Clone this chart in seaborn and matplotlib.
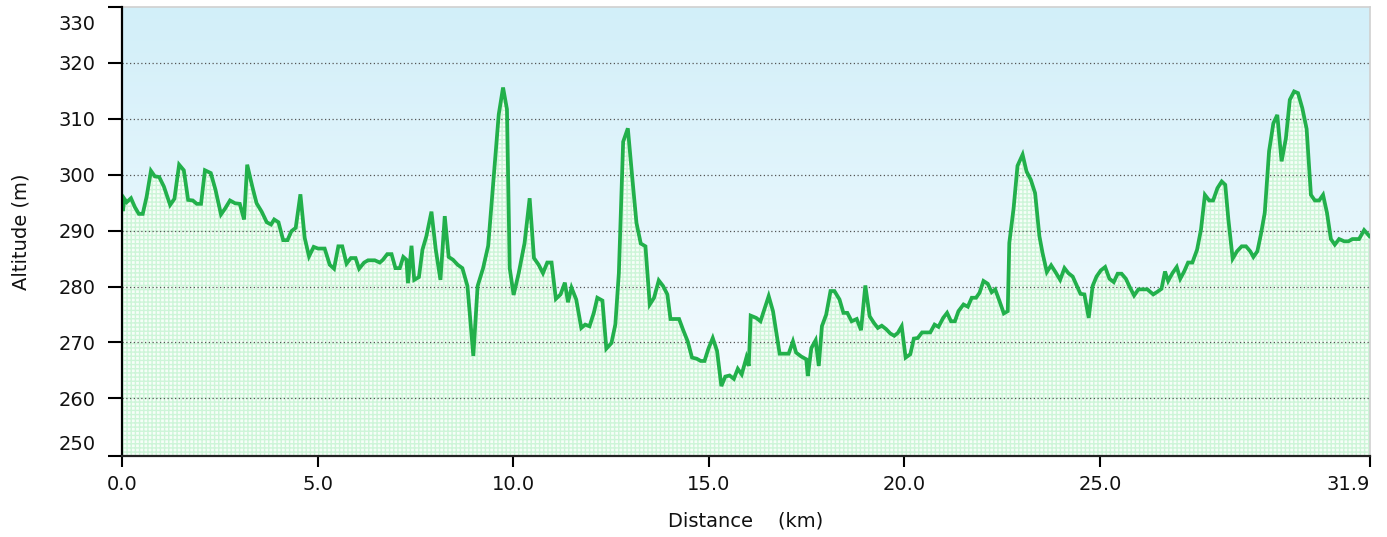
import numpy as np
import pandas as pd
import matplotlib
matplotlib.use('Agg')
import matplotlib.pyplot as plt
import matplotlib.transforms as mtransforms
from matplotlib.colors import LinearSegmentedColormap
import seaborn as sns

# Elevation profile (km, m)
distance_km = [
    0.00, 0.03, 0.06, 0.12, 0.23, 0.33, 0.43, 0.53, 0.63, 0.74, 0.84, 0.95, 1.07, 1.23, 1.34,
    1.46, 1.58, 1.69, 1.81, 1.91, 2.02, 2.12, 2.27, 2.39, 2.53, 2.63, 2.76, 2.89, 3.01, 3.12,
    3.20, 3.33, 3.44, 3.57, 3.70, 3.81, 3.89, 4.00, 4.12, 4.23, 4.33, 4.44, 4.56, 4.67, 4.78,
    4.90, 5.01, 5.18, 5.31, 5.42, 5.53, 5.63, 5.74, 5.85, 5.97, 6.06, 6.19, 6.29, 6.46, 6.59,
    6.67, 6.78, 6.89, 6.99, 7.10, 7.19, 7.27, 7.31, 7.40, 7.47, 7.59, 7.68, 7.78, 7.91, 8.02,
    8.14, 8.25, 8.35, 8.46, 8.58, 8.70, 8.83, 8.98, 9.09, 9.23, 9.36, 9.51, 9.63, 9.74, 9.84,
    9.91, 10.01, 10.14, 10.29, 10.42, 10.53, 10.65, 10.76, 10.87, 10.98, 11.09, 11.21, 11.32,
    11.40, 11.49, 11.61, 11.74, 11.84, 11.95, 12.06, 12.15, 12.28, 12.38, 12.51, 12.61, 12.70,
    12.81, 12.93, 13.04, 13.15, 13.26, 13.38, 13.49, 13.60, 13.72, 13.83, 13.94, 14.02, 14.13,
    14.24, 14.34, 14.46, 14.57, 14.69, 14.79, 14.89, 14.99, 15.10, 15.21, 15.32, 15.42, 15.53,
    15.64, 15.74, 15.84, 15.96, 16.02, 16.07, 16.21, 16.32, 16.53, 16.64, 16.81, 16.93, 17.04,
    17.15, 17.23, 17.36, 17.49, 17.53, 17.62, 17.73, 17.81, 17.89, 18.00, 18.11, 18.21, 18.34,
    18.44, 18.54, 18.65, 18.78, 18.89, 19.00, 19.11, 19.22, 19.32, 19.42, 19.53, 19.64, 19.74,
    19.83, 19.93, 20.03, 20.15, 20.24, 20.34, 20.45, 20.57, 20.66, 20.77, 20.87, 20.99, 21.09,
    21.19, 21.29, 21.38, 21.51, 21.62, 21.72, 21.83, 21.92, 22.02, 22.13, 22.23, 22.32, 22.43,
    22.54, 22.64, 22.68, 22.79, 22.89, 23.02, 23.12, 23.23, 23.34, 23.45, 23.53, 23.64, 23.75,
    23.86, 23.98, 24.09, 24.19, 24.30, 24.41, 24.50, 24.60, 24.71, 24.81, 24.91, 25.02, 25.13,
    25.24, 25.35, 25.45, 25.55, 25.66, 25.76, 25.87, 25.98, 26.09, 26.21, 26.36, 26.47, 26.57,
    26.66, 26.74, 26.85, 26.96, 27.05, 27.15, 27.25, 27.36, 27.48, 27.58, 27.68, 27.79, 27.89,
    28.00, 28.11, 28.20, 28.28, 28.39, 28.50, 28.62, 28.73, 28.84, 28.92, 29.02, 29.11, 29.21,
    29.32, 29.43, 29.53, 29.64, 29.75, 29.85, 29.96, 30.06, 30.17, 30.28, 30.39, 30.49, 30.60,
    30.70, 30.80, 30.90, 31.00, 31.11, 31.24, 31.35, 31.45, 31.62, 31.75, 31.90,
]
altitude_m = [
    293.8, 293.8, 295.7, 295.1, 295.8, 294.2, 293.0, 293.0, 296.1, 300.7, 299.7, 299.6, 297.9, 294.6, 295.7,
    301.8, 300.8, 295.5, 295.4, 294.8, 294.8, 300.8, 300.3, 297.3, 292.9, 293.9, 295.4, 294.9, 294.8, 292.0,
    301.8, 297.9, 294.9, 293.4, 291.5, 291.1, 292.0, 291.5, 288.3, 288.3, 289.9, 290.5, 296.5, 288.7, 285.4,
    287.1, 286.8, 286.8, 283.9, 283.2, 287.2, 287.2, 284.1, 285.1, 285.1, 283.2, 284.3, 284.7, 284.7, 284.3,
    284.8, 285.8, 285.8, 283.3, 283.3, 285.3, 284.8, 280.6, 287.3, 281.2, 281.7, 286.6, 289.0, 293.4, 286.6,
    281.2, 292.6, 285.3, 284.8, 283.9, 283.3, 280.1, 267.6, 280.1, 283.3, 287.3, 300.3, 310.8, 315.6, 311.7,
    283.3, 278.5, 282.4, 287.8, 295.8, 285.1, 283.9, 282.4, 284.3, 284.3, 277.8, 278.6, 280.7,
    277.2, 279.8, 277.7, 272.6, 273.2, 272.9, 275.3, 278.0, 277.5, 268.9, 269.9, 273.2, 282.4,
    305.9, 308.3, 299.7, 291.4, 287.7, 287.2, 276.8, 278.0, 281.1, 280.1, 278.6, 274.2, 274.2,
    274.2, 272.3, 270.2, 267.3, 267.1, 266.7, 266.7, 268.9, 270.8, 268.5, 262.2, 263.9, 264.1,
    263.5, 265.3, 264.3, 267.3, 265.8, 274.8, 274.4, 273.8, 278.3, 275.6, 268.0, 268.0, 268.0,
    270.2, 268.2, 267.5, 267.0, 264.0, 269.0, 270.4, 265.8, 272.9, 275.0, 279.2, 279.2, 277.7,
    275.3, 275.3, 273.8, 274.2, 272.2, 280.2, 274.7, 273.5, 272.6, 273.0, 272.4, 271.6, 271.2,
    271.7, 272.9, 267.3, 267.9, 270.7, 270.8, 271.8, 271.8, 271.8, 273.2, 272.8, 274.4, 275.3,
    273.8, 273.8, 275.6, 276.8, 276.4, 278.0, 278.0, 278.9, 281.0, 280.5, 279.0, 279.5, 277.4,
    275.2, 275.6, 287.8, 294.0, 301.6, 303.6, 300.6, 299.1, 296.7, 289.0, 286.0, 282.6, 283.8,
    282.6, 281.2, 283.3, 282.4, 281.8, 280.1, 278.7, 278.6, 274.4, 280.1, 281.8, 282.9, 283.5,
    281.4, 280.8, 282.3, 282.3, 281.4, 279.9, 278.4, 279.5, 279.5, 279.5, 278.6, 279.1, 279.6,
    282.7, 281.0, 282.4, 283.5, 281.4, 282.7, 284.3, 284.3, 286.6, 290.2, 296.4, 295.4, 295.4,
    297.6, 298.8, 298.2, 292.0, 285.0, 286.3, 287.2, 287.2, 286.3, 285.3, 286.3, 289.3, 293.2,
    304.2, 309.2, 310.7, 302.4, 306.5, 313.4, 314.9, 314.6, 311.9, 308.2, 296.4, 295.4, 295.4,
    296.4, 293.2, 288.5, 287.5, 288.5, 288.1, 288.1, 288.5, 288.5, 290.1, 288.9,
]
x_ticks = [0.0, 5.0, 10.0, 15.0, 20.0, 25.0, 31.9]
x_tick_labels = ['0.0', '5.0', '10.0', '15.0', '20.0', '25.0', '31.9']
y_ticks = [249.7, 260, 270, 280, 290, 300, 310, 320, 330]
y_tick_labels = ['250', '260', '270', '280', '290', '300', '310', '320', '330']

profile = pd.DataFrame({'dist': distance_km, 'alt': altitude_m})

sns.set_theme(style='white')
plt.rcParams['font.family'] = ['DejaVu Sans']
plt.rcParams['hatch.linewidth'] = 1.0

fig = plt.figure(figsize=(13.87, 5.37), dpi=100)
ax = fig.add_axes([122 / 1387, 1 - 456 / 537, (1370 - 122) / 1387, (456 - 7) / 537])

y_lo, y_hi = 249.7, 330.0
x_lo, x_hi = 0.0, 31.9

# sky gradient behind everything
sky = LinearSegmentedColormap.from_list('sky', ['#d2eff9', '#e6f6fc', '#f9fdff'])
ax.imshow(np.linspace(0, 1, 256).reshape(-1, 1), cmap=sky, aspect='auto',
          extent=[x_lo, x_hi, y_lo, y_hi], zorder=0, interpolation='bilinear')

# dotted green area under the profile
ax.fill_between(profile['dist'], profile['alt'], y_lo, facecolor='#f6fef8',
                edgecolor='#cdf5d8', hatch='++++', linewidth=0, zorder=1)

for v in [260, 270, 280, 290, 300, 310, 320]:
    ax.axhline(v, color='#555555', linestyle=(0, (1, 2)), linewidth=0.9, zorder=2)

sns.lineplot(data=profile, x='dist', y='alt', ax=ax, color='#22b04b', linewidth=2.7,
             sort=False, zorder=3)
for ln in ax.get_lines():
    ln.set_solid_joinstyle('miter')

ax.set_xlim(x_lo, x_hi)
ax.set_ylim(y_lo, y_hi)
ax.set_xticks(x_ticks)
ax.set_xticklabels(x_tick_labels)
ax.set_yticks(y_ticks)
ax.set_yticklabels(y_tick_labels)
ax.tick_params(axis='both', which='major', direction='out', width=1.5,
               color='black', labelsize=14, labelcolor='#111111')
ax.tick_params(axis='x', bottom=True, length=8, pad=6)
ax.tick_params(axis='y', left=True, length=10, pad=9)

# end labels sit inside the range, like the original
lbls = ax.get_yticklabels()
lbls[0].set_transform(lbls[0].get_transform() + mtransforms.ScaledTranslation(0, 0.13, fig.dpi_scale_trans))
lbls[-1].set_transform(lbls[-1].get_transform() + mtransforms.ScaledTranslation(0, -0.16, fig.dpi_scale_trans))
ax.get_xticklabels()[-1].set_horizontalalignment('right')

ax.set_xlabel('Distance    (km)', fontsize=14, color='#111111', labelpad=12)
ax.set_ylabel('Altitude (m)', fontsize=14, color='#111111', labelpad=20)

for side in ['top', 'right']:
    ax.spines[side].set_color('#d0d0d0')
    ax.spines[side].set_linewidth(1.2)
ax.spines['left'].set_color('black')
ax.spines['left'].set_linewidth(1.6)
ax.spines['bottom'].set_color('#222222')
ax.spines['bottom'].set_linewidth(1.6)
ax.spines['left'].set_zorder(5)
ax.spines['bottom'].set_zorder(5)

fig.savefig('out.png', dpi=100, facecolor='white')
